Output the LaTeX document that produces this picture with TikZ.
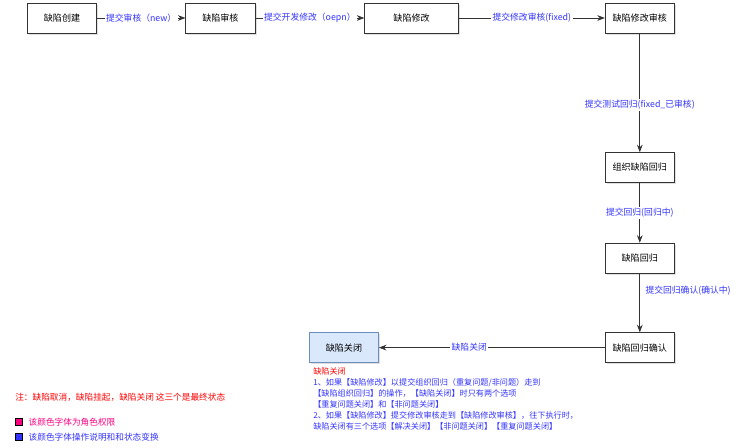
\documentclass[tikz,border=0pt]{standalone}
\usepackage{fontspec}
\setmainfont{Noto Sans CJK SC}
\usetikzlibrary{positioning,shadows,arrows.meta}
\definecolor{opblue}{HTML}{3333FF}
\definecolor{rolepink}{HTML}{FF0080}
\definecolor{closefill}{HTML}{DAE8FC}
\definecolor{closedraw}{HTML}{6C8EBF}
\definecolor{linegray}{HTML}{333333}

\begin{document}
\begin{tikzpicture}[x=0.75pt, y=-0.75pt, >=Stealth,
    state/.style = {draw=linegray, fill=white, minimum width=52pt, minimum height=22.5pt, inner sep=1pt, font=\fontsize{6.8}{8}\selectfont, drop shadow={shadow xshift=1.2pt, shadow yshift=-1.2pt, opacity=0.25, fill=gray}},
    flow/.style = {font=\fontsize{6.6}{8}\selectfont, text=opblue, fill=white, inner sep=1pt},
    link/.style = {->, draw=linegray, semithick}]
    \useasboundingbox (0,0) rectangle (737,447);

    % states along the top and down the right side
    \node[state] (create) at (62,18) {缺陷创建};
    \node[state, right=66.4pt of create] (review) {缺陷审核};
    \node[state, minimum width=70.5pt, right=81.75pt of review] (fix) {缺陷修改};
    \node[state, right=109.5pt of fix] (fixreview) {缺陷修改审核};
    \node[state, below=89.25pt of fixreview] (organize) {组织缺陷回归};
    \node[state, below=45pt of organize] (regress) {缺陷回归};
    \node[state, below=44.25pt of regress] (confirm) {缺陷回归确认};
    \node[state, fill=closefill, draw=closedraw, left=169.5pt of confirm] (close) {缺陷关闭};

    \draw[link] (create) -- node[flow] {提交审核（new）} (review);
    \draw[link] (review) -- node[flow] {提交开发修改（oepn）} (fix);
    \draw[link] (fix) -- node[flow] {提交修改审核(fixed)} (fixreview);
    \draw[link] (fixreview) -- node[flow, pos=0.6] {提交测试回归(fixed\_已审核)} (organize);
    \draw[link] (organize) -- node[flow] {提交回归(回归中)} (regress);
    \draw[link] (regress) -- node[flow, pos=0.3, anchor=west, fill=none, xshift=3pt] {提交回归确认(确认中)} (confirm);
    \draw[link] (confirm) -- node[flow, pos=0.6] {缺陷关闭} (close);

    % notes
    \node[anchor=north west, align=left, inner sep=0pt, font=\fontsize{6.1}{8.25}\selectfont, text=opblue] (closenote) at (313,367) {\textcolor{red}{缺陷关闭}\\
        1、如果【缺陷修改】以提交组织回归（重复问题/非问题）走到\\
        【缺陷组织回归】的操作，【缺陷关闭】时只有两个选项\\
        【重复问题关闭】和【非问题关闭】\\
        2、如果【缺陷修改】提交修改审核走到【缺陷修改审核】，往下执行时，\\
        缺陷关闭有三个选项【解决关闭】【非问题关闭】【重复问题关闭】};
    \node[anchor=west, inner sep=0pt, text=red, font=\fontsize{6.5}{8}\selectfont] (finalnote) at (15,397) {注：缺陷取消，缺陷挂起，缺陷关闭 这三个是最终状态};

    % legend
    \node[draw=black, fill=rolepink, minimum size=5.5pt, inner sep=0pt] (rolekey) at (18.5,422) {};
    \node[right=4.5pt of rolekey, inner sep=0pt, text=rolepink, font=\fontsize{6.5}{8}\selectfont] (roletext) {该颜色字体为角色权限};
    \node[draw=black, fill=opblue, minimum size=5.5pt, inner sep=0pt] (opkey) at (18.5,437) {};
    \node[right=4.5pt of opkey, inner sep=0pt, text=opblue, font=\fontsize{6.5}{8}\selectfont] (optext) {该颜色字体操作说明和和状态变换};
\end{tikzpicture}
\end{document}
